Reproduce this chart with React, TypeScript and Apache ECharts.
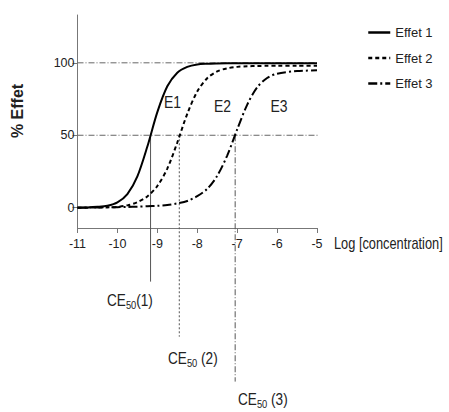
import React, { useEffect, useRef } from "react";
import * as echarts from "echarts";

const FONT = "'Liberation Sans', Arial, sans-serif";

// log concentrations at which curves were read
const logConc = [-11, -10.75, -10.5, -10.25, -10, -9.75, -9.5, -9.25, -9, -8.75, -8.5, -8.25, -8, -7.75, -7.5, -7.25, -7, -6.75, -6.5, -6.25, -6, -5.5, -5];
const effet1 = [0.1, 0.2, 0.6, 1.4, 3.7, 9.4, 21.6, 42.2, 66, 83.8, 93.2, 97.2, 98.9, 99.4, 99.6, 99.7, 99.7, 99.7, 99.7, 99.7, 99.7, 99.7, 99.7];
const effet2 = [0, 0.05, 0.1, 0.25, 0.6, 1.6, 3.8, 7.8, 15, 27, 45, 64.8, 80.2, 89.4, 94.1, 96.2, 97.2, 97.6, 97.8, 97.9, 97.9, 98, 98];
const effet3 = [0, 0.1, 0.2, 0.3, 0.4, 0.5, 0.7, 1.0, 1.3, 1.8, 3, 4.6, 8, 13, 22, 36, 54, 71, 83, 89.5, 92.5, 94.3, 94.8];

const seriesNames = ["Effet 1", "Effet 2", "Effet 3"];
const curveLabels = ["E1", "E2", "E3"];
const ce50 = [-9.17, -8.45, -7.05];
const ce50DropTo = [-51, -89, -120];
const ce50Labels = ["(1)", " (2)", " (3)"];
const yTicks = [0, 50, 100];
const refLevels = [100, 50];
const refLevelEnds = [-5, -4.55];

const dashTypes: any[] = ["solid", [4, 3], [9, 3, 2, 3]];

export default function App() {
  const ref = useRef<HTMLDivElement>(null);
  useEffect(() => {
    if (!ref.current) return;
    const chart = echarts.init(ref.current, null, { renderer: "svg" });
    const curves = [effet1, effet2, effet3];
    const series: any[] = curves.map((vals, i) => ({
      name: seriesNames[i],
      type: "line",
      data: logConc.map((x, j) => [x, vals[j]]),
      smooth: 0.3,
      symbol: "none",
      clip: false,
      z: 5,
      lineStyle: { color: "#000", width: 2, type: dashTypes[i] },
      itemStyle: { color: "#000" },
    }));
    refLevels.forEach((lv, i) => {
      series.push({
        type: "line",
        data: [[-11, lv], [refLevelEnds[i], lv]],
        symbol: "none",
        silent: true,
        clip: false,
        z: 2,
        lineStyle: { color: "#666", width: 1, type: [6, 2, 1, 2] },
      });
    });
    ce50.forEach((x, i) => {
      series.push({
        type: "line",
        data: [[x, 50], [x, ce50DropTo[i]]],
        symbol: "none",
        silent: true,
        clip: false,
        z: 2,
        lineStyle: {
          color: "#555",
          width: 1,
          type: i === 0 ? "solid" : i === 1 ? [2, 2] : [6, 2, 1, 2],
        },
      });
    });

    const graphic: any[] = [
      {
        type: "text",
        x: 17,
        y: 111,
        rotation: Math.PI / 2,
        style: {
          text: "% Effet",
          fontFamily: FONT,
          fontSize: 16,
          fontWeight: "bold",
          fill: "#222",
          align: "center",
          verticalAlign: "middle",
        },
      },
      {
        type: "text",
        x: 334,
        y: 243,
        scaleX: 0.8,
        style: {
          text: "Log [concentration]",
          fontFamily: FONT,
          fontSize: 16,
          fill: "#222",
          align: "left",
          verticalAlign: "middle",
        },
      },
    ];
    const curveLabelPos = [
      [172.5, 102],
      [222.5, 106],
      [279, 106],
    ];
    curveLabels.forEach((t, i) => {
      graphic.push({
        type: "text",
        x: curveLabelPos[i][0],
        y: curveLabelPos[i][1],
        scaleX: 0.82,
        style: {
          text: t,
          fontFamily: FONT,
          fontSize: 17,
          fill: "#222",
          align: "center",
          verticalAlign: "middle",
        },
      });
    });
    const ceLabelPos = [
      [107, 301],
      [168, 359],
      [238, 400],
    ];
    ce50Labels.forEach((t, i) => {
      graphic.push({
        type: "text",
        x: ceLabelPos[i][0],
        y: ceLabelPos[i][1],
        scaleX: 0.85,
        style: {
          text: "CE{s|50}" + t,
          fontFamily: FONT,
          fontSize: 16,
          lineHeight: 20,
          fill: "#222",
          align: "left",
          verticalAlign: "middle",
          rich: {
            s: { fontFamily: FONT, fontSize: 11, lineHeight: 11, verticalAlign: "bottom", fill: "#222" },
          },
        },
      });
    });

    chart.setOption({
      animation: false,
      backgroundColor: "#fff",
      textStyle: { fontFamily: FONT },
      grid: { left: 77.5, right: 132, top: 15, bottom: 184, containLabel: false },
      legend: {
        data: seriesNames,
        orient: "vertical",
        left: 362,
        top: 21,
        itemWidth: 22,
        itemHeight: 14,
        itemGap: 12.5,
        itemStyle: { opacity: 0 },
        lineStyle: { width: 2.5 },
        textStyle: { fontFamily: FONT, fontSize: 13, color: "#222" },
      },
      xAxis: {
        type: "value",
        min: -11,
        max: -5,
        interval: 1,
        axisLine: { onZero: false, lineStyle: { color: "#777", width: 1 } },
        axisTick: { show: true, length: 5, lineStyle: { color: "#777" } },
        axisLabel: { color: "#222", fontSize: 12.5, fontFamily: FONT, margin: 9 },
        splitLine: { show: false },
      },
      yAxis: {
        type: "value",
        min: -14,
        max: 133,
        axisLine: { show: true, onZero: false, lineStyle: { color: "#777", width: 1 } },
        axisTick: { show: true, length: 5, customValues: yTicks, lineStyle: { color: "#777" } },
        axisLabel: { color: "#222", fontSize: 12.5, fontFamily: FONT, margin: 3, customValues: yTicks },
        splitLine: { show: false },
      },
      graphic,
      series,
    });
    return () => chart.dispose();
  }, []);
  return (
    <div
      ref={ref}
      style={{ position: "fixed", left: 0, top: 0, width: 449, height: 412, background: "#fff" }}
    />
  );
}
